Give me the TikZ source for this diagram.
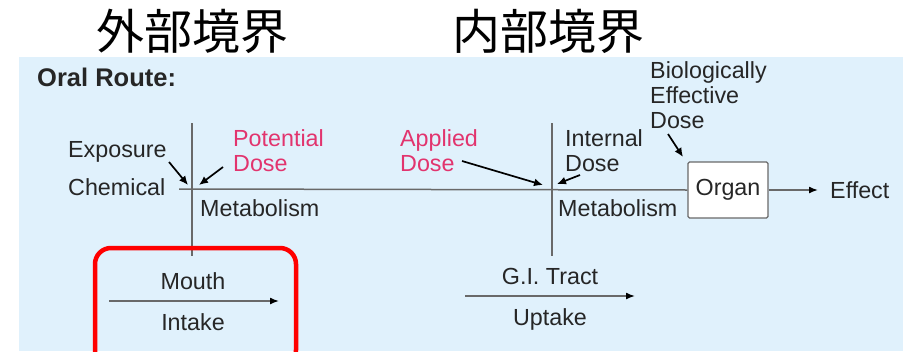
\documentclass[tikz,border=0pt]{standalone}
\usepackage{fontspec}
\setmainfont{Liberation Sans}
\newfontfamily\cjk{Noto Sans CJK JP}
\usetikzlibrary{arrows.meta}

\definecolor{panelblue}{RGB}{224,241,252}
\definecolor{dosepink}{RGB}{226,52,110}
\definecolor{rulegray}{RGB}{105,105,105}

\tikzset{
  txt/.style={inner sep=0pt, align=left, text=black!85, font=\fontsize{23.3}{25}\selectfont},
  pinktxt/.style={txt, text=dosepink},
  title/.style={inner sep=0pt, font=\cjk\fontsize{48}{48}\selectfont},
  rule/.style={rulegray, line width=1.5pt},
  tip/.style={-{Latex[length=9pt,width=8pt,color=black]}, line width=1.7pt},
  flow/.style={rule, -{Latex[length=9pt,width=7pt,color=black]}},
}

\begin{document}
\begin{tikzpicture}[x=1pt,y=-1pt]
\useasboundingbox (0,0) rectangle (909,351);
\fill[panelblue] (19,57) rectangle (903,351);

% boundaries
\node[title] (outer) at (192,31) {外部境界};
\node[title] (inner) at (548,31) {内部境界};
\node[txt, anchor=north west, font=\bfseries\fontsize{25.5}{27}\selectfont] (oral) at (37,68) {Oral Route:};

% labels above and below the line
\node[txt, anchor=north west] (exposure) at (68,141) {Exposure};
\node[txt, anchor=north west] (chemical) at (68,178) {Chemical};
\node[pinktxt, anchor=north west] (potential) at (233,129) {Potential\\Dose};
\node[pinktxt, anchor=north west] (applied) at (400,129) {Applied\\Dose};
\node[txt, anchor=north west] (internal) at (565,129) {Internal\\Dose};
\node[txt, anchor=north west] (bio) at (650,61) {Biologically\\Effective\\Dose};
\node[txt, anchor=north west] (metab1) at (200,199) {Metabolism};
\node[txt, anchor=north west] (metab2) at (558,199) {Metabolism};
\node[txt, draw=rulegray, line width=1.2pt, fill=white, rounded corners=1.5pt,
      minimum width=80pt, minimum height=56pt, align=center] (organ) at (728,190) {Organ};
\node[txt, anchor=west] (effect) at (830,190) {Effect};

% lower part
\node[txt, anchor=north] (mouth) at (193,272) {Mouth};
\node[txt, anchor=north] (intake) at (193,313) {Intake};
\node[txt, anchor=north] (gitract) at (550,268) {G.I. Tract};
\node[txt, anchor=north] (uptake) at (550,308) {Uptake};

\coordinate (start) at (179,189);
\coordinate (b1top) at (192,123);
\coordinate (b1bot) at (192,256);
\coordinate (b2top) at (552,123);
\coordinate (b2bot) at (552,256);
\coordinate (mouthL) at (109,301);
\coordinate (mouthR) at (279,301);
\coordinate (giL) at (465,296);
\coordinate (giR) at (635,296);

\draw[rule] (start) -- (organ.west);
\draw[rule, line width=1.2pt] (b1top) -- (b1bot);
\draw[rule, line width=1.2pt] (b2top) -- (b2bot);

% dose arrows
\draw[tip] (169,162) -- (188,185);
\draw[tip] (223,167) -- (199,185);
\draw[tip] (462,161) -- (543,185);
\draw[tip] (580,175) -- (557,184);
\draw[tip] (668,134) -- (683,157);

\draw[flow] (organ.east) -- ([xshift=-12pt]effect.west);
\draw[flow] (mouthL) -- (mouthR);
\draw[flow] (giL) -- (giR);

% highlight
\draw[red, line width=4.5pt, rounded corners=16pt] (95,248) rectangle (296,366);
\end{tikzpicture}
\end{document}
